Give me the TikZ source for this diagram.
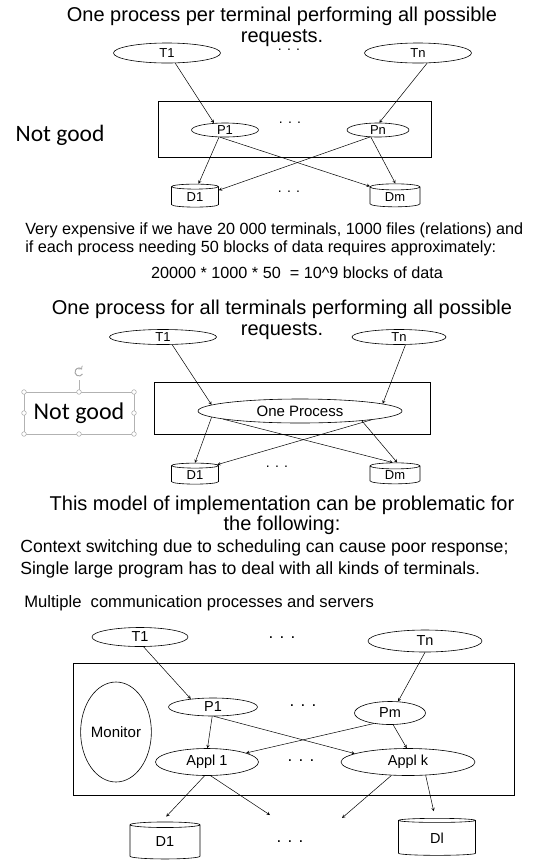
\documentclass[tikz,border=0pt]{standalone}
\usepackage{fontspec}
\setmainfont{Liberation Sans}
\newfontfamily\calfont{Carlito}
\usetikzlibrary{shapes.geometric}
\newcommand{\fsz}[2]{\fontsize{#1}{#2}\selectfont}
\tikzset{
  term/.style={draw, ellipse, inner sep=0pt},
  disk/.style={draw, cylinder, shape border rotate=90, aspect=0.3, inner sep=0pt},
  dots/.style={font=\fsz{14}{14}, inner sep=0pt},
  flow/.style={-stealth, line width=0.5pt},
  handle/.style={draw=gray!60, fill=white, line width=0.6pt}
}
\begin{document}
\begin{tikzpicture}[x=1pt, y=-1pt, line width=0.6pt, font=\fsz{13}{15}]
\useasboundingbox (0,0) rectangle (557,868);

% one process per terminal
\node[align=center, inner sep=0pt, font=\fsz{20}{21}] (head1) at (282,27) {One process per terminal performing all possible\\requests.};
\node[term, minimum width=107pt, minimum height=20pt] (t1a) at (167,53) {T1};
\node[term, minimum width=107pt, minimum height=20pt] (tna) at (418,53) {Tn};
\node[dots] at (289,50) {. . .};
\draw (158,101) rectangle (431,157);
\node[term, minimum width=67pt, minimum height=14pt] (p1a) at (225,130) {P1};
\node[term, minimum width=62pt, minimum height=14pt] (pna) at (378,130) {Pn};
\node[dots] at (290,123) {. . .};
\node[font=\calfont\fsz{23.5}{25}] (nga) at (60,135) {Not good};
\node[disk, minimum width=47pt, minimum height=23pt] (d1a) at (195,197) {D1};
\node[disk, minimum width=50pt, minimum height=23pt] (dma) at (395,197) {Dm};
\node[dots] at (289,192) {. . .};
\draw[flow] (t1a.-51) -- (p1a.148);
\draw[flow] (tna.-48) -- (pna.80);
\draw[flow] (p1a.-130) -- (d1a.75);
\draw[flow] (p1a.-125) -- (dma.157);
\draw[flow] (pna.-139) -- (d1a.16);
\draw[flow] (pna.-135) -- (dma.88);

\node[align=left, anchor=west, inner sep=0pt, font=\fsz{16.2}{18}] (cost) at (25,239) {Very expensive if we have 20 000 terminals, 1000 files (relations) and\\if each process needing 50 blocks of data requires approximately:};
\node[font=\fsz{16.2}{18}] (calc) at (297,273) {20000 * 1000 * 50~ = 10\textasciicircum 9 blocks of data};

% one process for all terminals
\node[align=center, inner sep=0pt, font=\fsz{20}{21}] (head2) at (282,320) {One process for all terminals performing all possible\\requests.};
\node[term, minimum width=107pt, minimum height=15pt] (t1b) at (163,337) {T1};
\node[term, minimum width=94pt, minimum height=15pt] (tnb) at (399,337) {Tn};
\draw (154,382) rectangle (430,434);
\node[term, minimum width=204pt, minimum height=24pt, font=\fsz{15}{17}] (one) at (300,411) {One Process};
\node[font=\calfont\fsz{24}{26}] (ngb) at (79,413) {Not good};
\draw[gray!60] (24,392) rectangle (134,434) (79,392) -- (79,380);
\foreach \hx/\hy in {24/392, 79/392, 134/392, 24/413, 134/413, 24/434, 79/434, 134/434}
  \draw[handle] (\hx,\hy) circle (2.3);
\draw[gray!70, line width=1pt, ->] (79,372) ++(30:4) arc (30:320:4);
\node[disk, minimum width=47pt, minimum height=21pt] (d1b) at (195,475) {D1};
\node[disk, minimum width=50pt, minimum height=21pt] (dmb) at (395,475) {Dm};
\node[dots] at (277,467) {. . .};
\draw[flow] (t1b.-40) -- (one.176);
\draw[flow] (tnb.-50) -- (one.5);
\draw[flow] (one.184) -- (d1b.90);
\draw[flow] (one.186) -- (dmb.100);
\draw[flow] (one.-7) -- (d1b.25);
\draw[flow] (one.-9) -- (dmb.80);

% problems
\node[align=center, font=\fsz{20}{20}] (head3) at (282,515) {This model of implementation can be problematic for\\the following:};
\node[align=left, anchor=west, inner sep=0pt, font=\fsz{17.6}{22}] (why) at (20,559) {Context switching due to scheduling can cause poor response;\\Single large program has to deal with all kinds of terminals.};

% communication processes and servers
\node[anchor=west, inner sep=0pt, font=\fsz{16.6}{18}] (multi) at (24,603) {Multiple\ \ communication processes and servers};
\node[term, minimum width=96pt, minimum height=19pt, font=\fsz{14.5}{16}] (t1c) at (140,637) {T1};
\node[term, minimum width=114pt, minimum height=22pt, font=\fsz{14.5}{16}] (tnc) at (425,641) {Tn};
\node[dots, font=\fsz{17}{17}] at (282,638) {. . .};
\draw (73,663) rectangle (514,795);
\node[term, minimum width=60pt, minimum height=100pt, font=\fsz{15}{17}] (mon) at (116,732) {Monitor};
\node[term, minimum width=89pt, minimum height=18pt, font=\fsz{14.5}{16}] (p1c) at (213,707) {P1};
\node[term, minimum width=71pt, minimum height=23pt, font=\fsz{14.5}{16}] (pmc) at (390,713) {Pm};
\node[dots, font=\fsz{17}{17}] at (303,706) {. . .};
\node[term, minimum width=103pt, minimum height=27pt, font=\fsz{14.5}{16}] (a1c) at (207,762) {Appl 1};
\node[term, minimum width=134pt, minimum height=27pt, font=\fsz{14.5}{16}] (akc) at (408,762) {Appl k};
\node[dots, font=\fsz{17}{17}] at (301,761) {. . .};
\node[disk, minimum width=70pt, minimum height=37pt, font=\fsz{14.5}{16}] (d1c) at (165,842) {D1};
\node[disk, minimum width=77pt, minimum height=37pt, font=\fsz{14.5}{16}] (dlc) at (437,838) {Dl};
\node[dots, font=\fsz{17}{17}] at (290,842) {. . .};
\coordinate (gap1) at (270,815);
\coordinate (gap2) at (342,818);
\draw[flow] (t1c.-70) -- (p1c.160);
\draw[flow] (tnc.-90) -- (pmc.55);
\draw[flow] (p1c.-95) -- (a1c.88);
\draw[flow] (p1c.-85) -- (akc.171);
\draw[flow] (pmc.213) -- (a1c.13);
\draw[flow] (pmc.-75) -- (akc.95);
\draw[flow, shorten >=7pt] (a1c.-100) -- (d1c.100);
\draw[flow] (a1c.-75) -- (gap1);
\draw[flow] (akc.219) -- (gap2);
\draw[flow, shorten >=7pt] (akc.-37) -- (dlc.95);
\end{tikzpicture}
\end{document}
